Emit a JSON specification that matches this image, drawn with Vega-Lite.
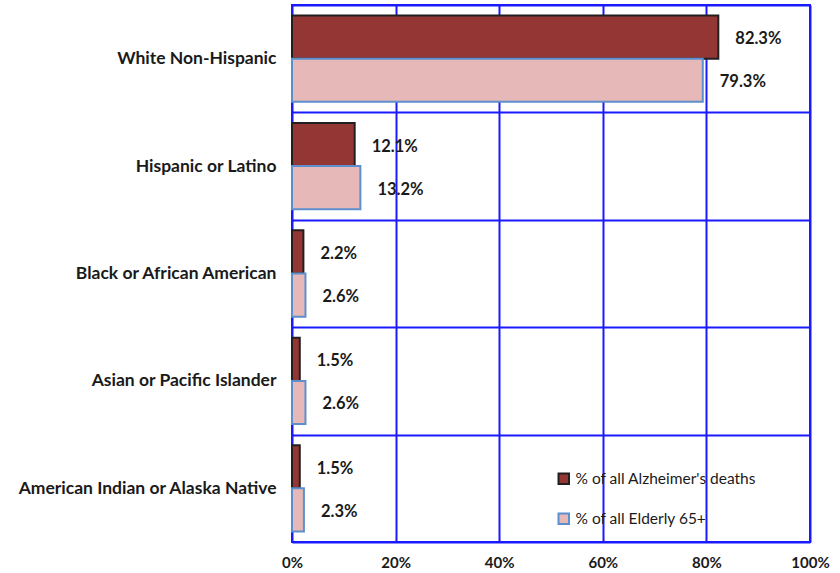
{
  "$schema": "https://vega.github.io/schema/vega-lite/v6.json",
  "autosize": {"type": "none"},
  "width": 518,
  "height": 537,
  "padding": {"left": 292, "top": 5, "right": 30, "bottom": 31},
  "background": "white",
  "config": {
    "view": {"stroke": "#1a1aff", "strokeWidth": 2},
    "font": "Lato"
  },
  "data": {
    "values": [
      {"group": "White Non-Hispanic", "series": "% of all Alzheimer's deaths", "value": 0.823},
      {"group": "White Non-Hispanic", "series": "% of all Elderly 65+", "value": 0.793},
      {"group": "Hispanic or Latino", "series": "% of all Alzheimer's deaths", "value": 0.121},
      {"group": "Hispanic or Latino", "series": "% of all Elderly 65+", "value": 0.132},
      {"group": "Black or African American", "series": "% of all Alzheimer's deaths", "value": 0.022},
      {"group": "Black or African American", "series": "% of all Elderly 65+", "value": 0.026},
      {"group": "Asian or Pacific Islander", "series": "% of all Alzheimer's deaths", "value": 0.015},
      {"group": "Asian or Pacific Islander", "series": "% of all Elderly 65+", "value": 0.026},
      {"group": "American Indian or Alaska Native", "series": "% of all Alzheimer's deaths", "value": 0.015},
      {"group": "American Indian or Alaska Native", "series": "% of all Elderly 65+", "value": 0.023}
    ]
  },
  "encoding": {
    "y": {
      "field": "group",
      "type": "nominal",
      "sort": null,
      "scale": {"paddingInner": 0, "paddingOuter": 0},
      "axis": {
        "title": null,
        "domain": false,
        "ticks": false,
        "tickBand": "extent",
        "grid": true,
        "gridColor": "#1a1aff",
        "gridWidth": 2,
        "gridOpacity": 1,
        "labelPadding": 16,
        "labelFont": "Lato",
        "labelFontSize": 17.5,
        "labelFontWeight": "bold",
        "labelColor": "#1a1a1a",
        "labelLimit": 300
      }
    },
    "yOffset": {
      "field": "series",
      "type": "nominal",
      "scale": {"paddingInner": 0, "paddingOuter": 0.244}
    },
    "x": {
      "field": "value",
      "type": "quantitative",
      "scale": {"domain": [0, 1], "nice": false},
      "axis": {
        "title": null,
        "values": [0, 0.2, 0.4, 0.6, 0.8, 1],
        "format": ".0%",
        "domain": false,
        "ticks": false,
        "grid": true,
        "gridColor": "#1a1aff",
        "gridWidth": 2,
        "gridOpacity": 1,
        "labelPadding": 13,
        "labelFont": "Lato",
        "labelFontSize": 15,
        "labelFontWeight": "bold",
        "labelColor": "#1a1a1a",
        "labelFlush": false
      }
    }
  },
  "layer": [
    {
      "mark": {"type": "bar", "strokeWidth": 2},
      "encoding": {
        "fill": {
          "field": "series",
          "type": "nominal",
          "scale": {"domain": ["% of all Alzheimer's deaths", "% of all Elderly 65+"], "range": ["#943634", "#e6b9b8"]},
          "legend": {
            "title": null,
            "orient": "none",
            "legendX": 264,
            "legendY": 466,
            "symbolType": "square",
            "symbolSize": 110,
            "symbolStrokeWidth": 2,
            "symbolOpacity": 1,
            "labelFont": "Lato",
            "labelFontSize": 15.5,
            "labelColor": "#1a1a1a",
            "labelOffset": 4,
            "rowPadding": 21,
            "labelLimit": 300
          }
        },
        "stroke": {
          "field": "series",
          "type": "nominal",
          "scale": {"domain": ["% of all Alzheimer's deaths", "% of all Elderly 65+"], "range": ["#231f20", "#5b8fce"]},
          "legend": {
            "title": null,
            "orient": "none",
            "legendX": 264,
            "legendY": 466,
            "symbolType": "square",
            "symbolSize": 110,
            "symbolStrokeWidth": 2,
            "symbolOpacity": 1,
            "labelFont": "Lato",
            "labelFontSize": 15.5,
            "labelColor": "#1a1a1a",
            "labelOffset": 4,
            "rowPadding": 21,
            "labelLimit": 300
          }
        }
      }
    },
    {
      "mark": {"type": "text", "align": "left", "baseline": "middle", "dx": 17, "dy": 2, "font": "Lato", "fontSize": 16.5, "fontWeight": "bold", "color": "#1a1a1a"},
      "encoding": {
        "text": {"field": "value", "type": "quantitative", "format": ".1%"}
      }
    }
  ]
}
